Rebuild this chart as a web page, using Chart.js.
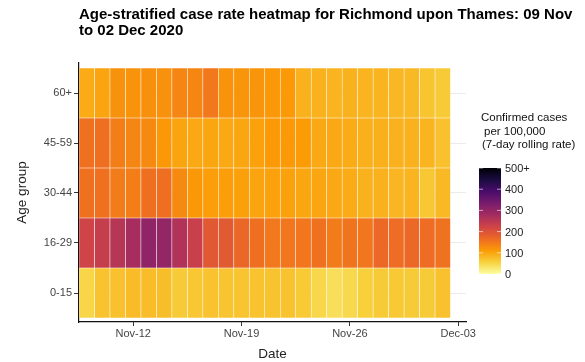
<!DOCTYPE html>
<html>
<head>
<meta charset="utf-8">
<script src="https://cdn.jsdelivr.net/npm/chart.js@4/dist/chart.umd.min.js"></script>
<style>
  body { margin: 0; background: #fff; }
  #wrap { width: 585px; height: 362px; position: relative; }
</style>
</head>
<body>
<div id="wrap"><canvas id="myChart"></canvas></div>
<script>
// dates shown on the heatmap (one column per day)
const dates = ['Nov-09', 'Nov-10', 'Nov-11', 'Nov-12', 'Nov-13', 'Nov-14', 'Nov-15', 'Nov-16',
    'Nov-17', 'Nov-18', 'Nov-19', 'Nov-20', 'Nov-21', 'Nov-22', 'Nov-23', 'Nov-24',
    'Nov-25', 'Nov-26', 'Nov-27', 'Nov-28', 'Nov-29', 'Nov-30', 'Dec-01', 'Dec-02'];
const tickLabels = ['Nov-12', 'Nov-19', 'Nov-26', 'Dec-03'];
const ageGroups = ['0-15', '16-29', '30-44', '45-59', '60+'];
const legendTicks = [0, 100, 200, 300, 400, 500];

// case rate per 100,000 (7-day rolling)
const rate0to15 = [50, 70, 72, 78, 76, 75, 62, 66, 70, 68, 68, 70, 70, 70, 63, 48, 40, 47, 57, 62, 64, 62, 62, 72];
const rate16to29 = [222, 235, 255, 275, 305, 300, 262, 232, 190, 188, 170, 160, 150, 152, 152, 158, 145, 155, 152, 168, 163, 168, 163, 157];
const rate30to44 = [158, 158, 145, 143, 160, 160, 130, 115, 108, 108, 106, 102, 105, 105, 100, 100, 97, 95, 88, 88, 83, 85, 65, 80];
const rate45to59 = [158, 160, 143, 135, 130, 115, 102, 98, 100, 98, 100, 105, 112, 112, 110, 97, 97, 95, 90, 90, 88, 88, 85, 72];
const rate60plus = [95, 102, 122, 120, 123, 122, 135, 135, 150, 120, 118, 118, 115, 112, 88, 88, 85, 87, 85, 85, 82, 80, 68, 62];
const rateSeries = [rate0to15, rate16to29, rate30to44, rate45to59, rate60plus];

const FONT = '"Liberation Sans", Arial, sans-serif';
//inferno palette, dark to light
const inferno = ['#000004', '#1b0c41', '#4a0c6b', '#781c6d', '#a52c60', '#cf4446', '#ed6925', '#fb9b06', '#f7d13d', '#fcffa4'];

const hexToRgb = hex => [1, 3, 5].map(i => parseInt(hex.substr(i, 2), 16));

//maps a rate to the reversed inferno scale (0 = light, 500+ = dark)
const rateColor = value => {
    const t = 1 - Math.min(value, 500) / 500;
    const pos = t * (inferno.length - 1);
    const i = Math.min(Math.floor(pos), inferno.length - 2);
    const f = pos - i;
    const a = hexToRgb(inferno[i]);
    const b = hexToRgb(inferno[i + 1]);
    const c = a.map((v, k) => Math.round(v + (b[k] - v) * f));
    return `rgb(${c[0]}, ${c[1]}, ${c[2]})`;
};

//axis runs one extra day so Dec-03 gets a tick
const xLabels = [...dates, 'Dec-03'];

const datasets = ageGroups.map((group, gi) => ({
    label: group,
    data: rateSeries[gi].map(() => [gi, gi + 1]),
    backgroundColor: rateSeries[gi].map(rateColor),
    borderColor: 'rgba(255, 255, 255, 0.35)',
    borderWidth: 0.6,
    borderSkipped: false,
    barPercentage: 1,
    categoryPercentage: 1,
    grouped: false
}));

//title and colour bar legend
const decorations = {
    id: 'decorations',
    afterDraw(chart) {
        const c = chart.ctx;
        c.save();
        c.fillStyle = '#000';
        c.textBaseline = 'middle';
        c.textAlign = 'left';
        c.font = 'bold 15px ' + FONT;
        c.fillText('Age-stratified case rate heatmap for Richmond upon Thames: 09 Nov', 79, 15);
        c.fillText('to 02 Dec 2020', 79, 31);

        c.font = '11.5px ' + FONT;
        c.fillStyle = '#111';
        c.fillText('Confirmed cases', 481, 118);
        c.fillText('per 100,000', 484, 132);
        c.fillText('(7-day rolling rate)', 482, 145);

        const barLeft = 479, barRight = 501, barTop = 168, barBottom = 274;
        const grad = c.createLinearGradient(0, barBottom, 0, barTop);
        for (let i = 0; i <= 50; i++) {
            grad.addColorStop(i / 50, rateColor(i * 10));
        }
        c.fillStyle = grad;
        c.fillRect(barLeft, barTop, barRight - barLeft, barBottom - barTop);

        c.font = '11px ' + FONT;
        c.fillStyle = '#222';
        legendTicks.forEach(v => {
            const y = barBottom - (barBottom - barTop) * v / 500;
            c.strokeStyle = 'rgba(255, 255, 255, 0.6)';
            c.lineWidth = 1;
            c.beginPath();
            c.moveTo(barLeft, y); c.lineTo(barLeft + 4, y);
            c.moveTo(barRight - 4, y); c.lineTo(barRight, y);
            c.stroke();
            c.fillText(v === 500 ? '500+' : String(v), 505, y + 1);
        });
        c.restore();
    }
};

const ctx = document.getElementById('myChart').getContext('2d');
const myChart = new Chart(ctx, {
    type: 'bar',
    data: { labels: xLabels, datasets: datasets },
    options: {
        responsive: true,
        maintainAspectRatio: false,
        animation: false,
        layout: { padding: { top: 63, right: 119, left: 0, bottom: 0 } },
        plugins: {
            legend: { display: false },
            tooltip: { enabled: false }
        },
        scales: {
            x: {
                type: 'category',
                offset: true,
                grid: {
                    offset: false,
                    drawOnChartArea: false,
                    tickLength: 4,
                    tickColor: c => tickLabels.includes(xLabels[c.index]) ? '#333' : 'rgba(0,0,0,0)'
                },
                border: { display: true, color: '#111', width: 1.2 },
                ticks: {
                    autoSkip: false,
                    maxRotation: 0,
                    padding: 1,
                    color: '#444',
                    font: { family: FONT, size: 11 },
                    callback: (v, i) => tickLabels.includes(xLabels[i]) ? xLabels[i] : ''
                },
                title: {
                    display: true,
                    text: 'Date',
                    color: '#222',
                    font: { family: FONT, size: 13.5 },
                    padding: { top: 2, bottom: 0 }
                },
                afterFit: scale => { scale.height = 40; }
            },
            y: {
                type: 'linear',
                min: -0.08,
                max: 5.1,
                afterBuildTicks: scale => {
                    scale.ticks = ageGroups.map((g, i) => ({ value: i + 0.5 }));
                },
                grid: {
                    color: '#ebebeb',
                    tickColor: '#333',
                    tickLength: 5
                },
                border: { display: true, color: '#111', width: 1.2 },
                ticks: {
                    padding: 2,
                    color: '#444',
                    font: { family: FONT, size: 11 },
                    callback: v => ageGroups[Math.floor(v)]
                },
                title: {
                    display: true,
                    text: 'Age group',
                    color: '#222',
                    font: { family: FONT, size: 13.5 },
                    padding: { top: 14, bottom: 0 }
                },
                afterFit: scale => { scale.width = 79; }
            }
        }
    },
    plugins: [decorations]
});
</script>
</body>
</html>
